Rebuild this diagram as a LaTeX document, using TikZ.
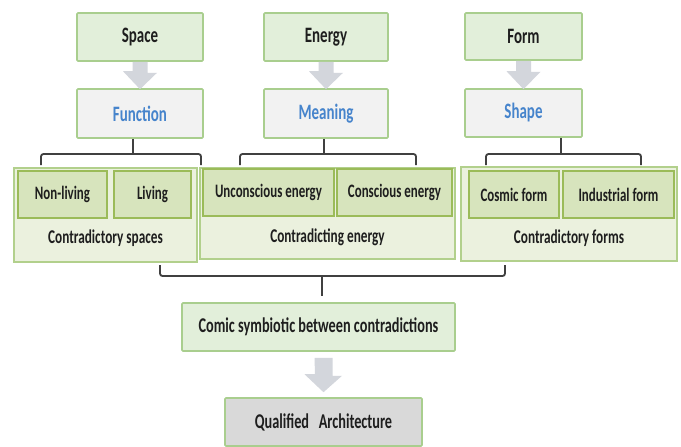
\documentclass[tikz,border=0pt]{standalone}
\usepackage{fontspec}
\setmainfont{Carlito}[FakeStretch=0.68]
\usetikzlibrary{calc}
\definecolor{topfill}{RGB}{226,239,218}
\definecolor{boxedge}{RGB}{169,206,142}
\definecolor{midfill}{RGB}{242,242,242}
\definecolor{bluetext}{RGB}{70,132,204}
\definecolor{groupfill}{RGB}{235,241,222}
\definecolor{groupedge}{RGB}{178,208,140}
\definecolor{innerfill}{RGB}{215,228,189}
\definecolor{inneredge}{RGB}{155,187,89}
\definecolor{endfill}{RGB}{217,217,217}
\definecolor{arrowgray}{RGB}{211,214,220}
\definecolor{linegray}{RGB}{64,64,64}
\definecolor{ink}{RGB}{30,30,30}
\tikzset{
  box/.style={draw=boxedge, line width=1.6pt, rounded corners=1pt, inner sep=0pt,
    font=\bfseries\fontsize{22}{25}\selectfont, text=ink},
  topbox/.style={box, fill=topfill},
  midbox/.style={box, fill=midfill, text=bluetext},
  groupbox/.style={draw=groupedge, line width=1.6pt, fill=groupfill, inner sep=0pt},
  innerbox/.style={draw=inneredge, line width=1.4pt, fill=innerfill, inner sep=0pt,
    font=\bfseries\fontsize{19}{22}\selectfont, text=ink},
  grouplabel/.style={font=\bfseries\fontsize{19.5}{22}\selectfont, text=ink, inner sep=0pt},
  lowbox/.style={box, font=\bfseries\fontsize{21}{24}\selectfont},
  bracket/.style={draw=linegray, line width=1.8pt, rounded corners=2.5pt},
  blockarrow/.style={fill=arrowgray, draw=none}
}
\begin{document}
\begin{tikzpicture}[x=1pt,y=-1pt]
\useasboundingbox[fill=white] (0,0) rectangle (681,447);

% top row
\node[topbox, minimum width=126pt, minimum height=48pt] (space)  at (140,37)   {Space};
\node[topbox, minimum width=124pt, minimum height=48pt] (energy) at (326,37)   {Energy};
\node[topbox, minimum width=117pt, minimum height=47pt] (form)   at (523.5,36.5) {Form};

% second row
\node[midbox, minimum width=126pt, minimum height=49pt] (function) at (140,113.5) {Function};
\node[midbox, minimum width=124pt, minimum height=49pt] (meaning)  at (326,113.5) {Meaning};
\node[midbox, minimum width=117pt, minimum height=48pt] (shape)    at (523.5,113) {Shape};

% block arrows between the first two rows
\foreach \a/\b in {space/function, energy/meaning, form/shape}{
  \fill[blockarrow]
    ([xshift=-7.5pt]\a.south) -- ([xshift=7.5pt]\a.south) -- ++(0,11) -- ++(9.5,0)
    -- ([yshift=-1pt]\b.north) -- ++(-17,-18) -- ++(9.5,0) -- cycle;
}

% groups of contradictions
\node[groupbox, minimum width=183pt, minimum height=94pt] (gspace)  at (105.5,215) {};
\node[innerbox, minimum width=89pt, minimum height=47pt]  (nonliving) at (62.5,194.5) {Non-living};
\node[innerbox, minimum width=77pt, minimum height=47pt]  (living)    at (152.5,194.5) {Living};
\node[grouplabel] (lspace) at (105.5,238) {Contradictory spaces};

\node[groupbox, minimum width=255pt, minimum height=91pt] (genergy) at (327.5,213.5) {};
\node[innerbox, minimum width=131pt, minimum height=47pt] (uncon) at (268.5,192.5) {Unconscious energy};
\node[innerbox, minimum width=115pt, minimum height=47pt] (con)   at (394.5,192.5) {Conscious energy};
\node[grouplabel] (lenergy) at (327.5,237) {Contradicting energy};

\node[groupbox, minimum width=216pt, minimum height=94pt] (gform) at (569,214) {};
\node[innerbox, minimum width=90pt, minimum height=47pt]  (cosmic)     at (514,194.5) {Cosmic form};
\node[innerbox, minimum width=111pt, minimum height=47pt] (industrial) at (618.5,194.5) {Industrial form};
\node[grouplabel] (lform) at (569,238) {Contradictory forms};

% brackets from each second-row box down to its group
\coordinate (sl) at (41,165);  \coordinate (sr) at (201,165);
\coordinate (el) at (240,165); \coordinate (er) at (416,165);
\coordinate (fl) at (486,165); \coordinate (fr) at (641,165);
\draw[bracket] (sl) -- ++(0,-11) -- ++(160,0) -- (sr);
\draw[bracket] ([xshift=-7pt]function.south) -- ++(0,16);
\draw[bracket] (el) -- ++(0,-11) -- ++(176,0) -- (er);
\draw[bracket] ([xshift=-2pt]meaning.south) -- ++(0,16);
\draw[bracket] (fl) -- ++(0,-11) -- ++(155,0) -- (fr);
\draw[bracket] ([xshift=37.5pt]shape.south) -- ++(0,17);

% result boxes
\node[lowbox, fill=topfill, minimum width=273pt, minimum height=48pt] (comic) at (318.5,327)
  {Comic symbiotic between contradictions};
\node[lowbox, fill=endfill, minimum width=197pt, minimum height=48pt] (qualified) at (323.5,422)
  {Qualified\ \ \ Architecture};

% bracket joining the groups into the result
\coordinate (bl) at (160,265); \coordinate (br) at (505,265);
\draw[bracket] (bl) -- ++(0,11) -- ++(345,0) -- (br);
\draw[bracket] (322,276) -- ([xshift=3.5pt,yshift=6pt]comic.north);

% block arrow to the final box
\fill[blockarrow] ([xshift=-4pt,yshift=-6pt]comic.south) -- ++(18,0) -- ++(0,18) -- ++(9.5,0)
  -- ([yshift=5pt]qualified.north) -- ++(-19,-18) -- ++(10.5,0) -- cycle;
\end{tikzpicture}
\end{document}
